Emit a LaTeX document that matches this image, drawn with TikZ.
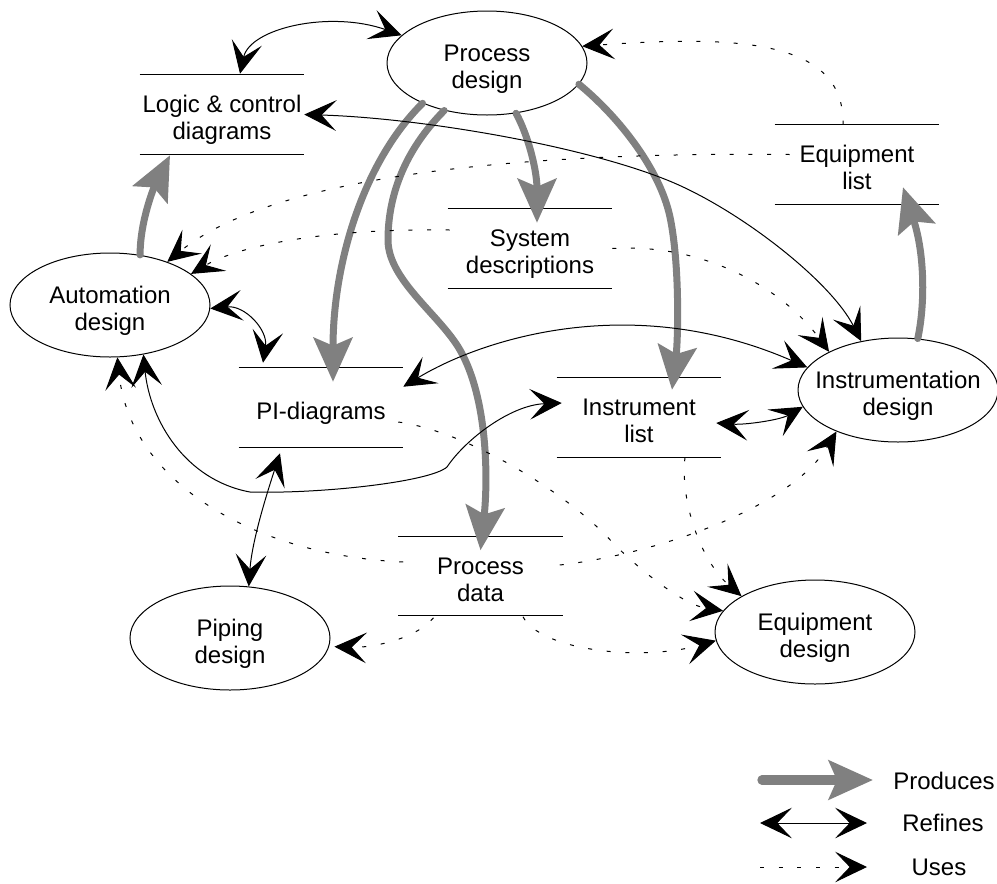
\documentclass[tikz,border=0pt]{standalone}
\usepackage{fontspec}
\setmainfont{Liberation Sans}
\usetikzlibrary{arrows.meta,shapes.geometric,calc}

% centred multi-line label that does not widen its node
\newcommand\ntext[1]{\smash{\raisebox{-9pt}{\makebox[0pt]{\begin{tabular}{@{}c@{}}#1\end{tabular}}}}}

\begin{document}
\begin{tikzpicture}[x=0.75pt,y=-0.75pt,
  every node/.style={font=\fontsize{18}{20.25}\selectfont},
  activity/.style={ellipse,draw,fill=white,line width=0.75pt,minimum width=150pt,minimum height=78pt,inner sep=0pt},
  storeline/.style={draw,line width=0.75pt},
  store/.style={rectangle,minimum width=123pt,minimum height=59.25pt,inner sep=0pt,
    append after command={(\tikzlastnode.north west) edge[storeline] (\tikzlastnode.north east)
                          (\tikzlastnode.south west) edge[storeline] (\tikzlastnode.south east)}},
  produces/.style={draw=gray,line width=5.25pt,line cap=round,-{Stealth[length=33pt,width=29pt,inset=6pt]}},
  refines/.style={draw,line width=0.75pt,{Stealth[length=24pt,width=23pt,inset=11pt]}-{Stealth[length=24pt,width=23pt,inset=11pt]}},
  uses/.style={draw,line width=0.75pt,dash pattern=on 3pt off 11pt,-{Stealth[length=24pt,width=23pt,inset=11pt]}},
]
\useasboundingbox (0,0) rectangle (997,883);
\fill[white] (0,0) rectangle (997,883);

% activities
\node[activity] (pd) at (487,63) {\ntext{Process\\design}};
\node[activity] (ad) at (110,305) {\ntext{Automation\\design}};
\node[activity] (id) at (898,390) {\ntext{Instrumentation\\design}};
\node[activity] (pp) at (230,638) {\ntext{Piping\\design}};
\node[activity] (ed) at (815,632) {\ntext{Equipment\\design}};

% documents
\node[store] (lc) at (222,114.5) {\ntext{Logic \& control\\diagrams}};
\node[store] (el) at (857,164.5) {\ntext{Equipment\\list}};
\node[store] (sd) at (530,248.5) {\ntext{System\\descriptions}};
\node[store] (pi) at (321,407.5) {\ntext{PI-diagrams}};
\node[store] (il) at (639,417.5) {\ntext{Instrument\\list}};
\node[store] (pdat) at (480.5,576) {\ntext{Process\\data}};

% produces
\draw[produces] (ad.59) .. controls (140,220) and (155,185) .. ($(lc.south)+(-52,1)$);
\draw[produces] (pd.212) .. controls (365,160) and (333,260) .. ($(pi.north)+(12,14)$);
\draw[produces] (pd.228) .. controls (405,150) and (388,195) .. (388,240)
   .. controls (388,280) and (440,315) .. (460,350)
   .. controls (488,399) and (488,480) .. ($(pdat.north)+(0,14)$);
\draw[produces] (pd.-60) .. controls (528,135) and (537,170) .. ($(sd.north)+(7,14)$);
\draw[produces] (pd.-13) .. controls (620,118) and (660,170) .. (670,217)
   .. controls (680,265) and (678,340) .. ($(il.north)+(33,12)$);
\draw[produces] (id.69) .. controls (925,305) and (925,255) .. ($(el.south)+(46,-17)$);

% refines
\draw[refines] ($(lc.north)+(18,-1)$) .. controls (250,28) and (330,10) .. (pd.162);
\draw[refines] (lc.east) .. controls (420,118) and (580,145) .. (667,180)
   .. controls (737,208) and (830,280) .. (id.127);
\draw[refines] (ad.-2) .. controls (245,305) and (268,330) .. ($(pi.north)+(-58,-5)$);
\draw[refines] (ad.-56) .. controls (150,420) and (185,480) .. (250,492)
   .. controls (320,494) and (430,482) .. (447,467)
   .. controls (465,440) and (510,405) .. ($(il.west)+(5,-14.5)$);
\draw[refines] ($(pi.south)+(-41,6)$) .. controls (268,490) and (252,540) .. (pp.70);
\draw[refines] ($(pi.north east)+(0,19)$) .. controls (480,340) and (630,290) .. (id.166);
\draw[refines] ($(il.east)+(-5,5.5)$) .. controls (745,425) and (780,420) .. (id.190);

% uses
\draw[uses] ($(el.north)+(-14,0)$) .. controls (845,40) and (740,35) .. (pd.10);
\draw[uses] ($(el.west)+(15,-10)$) .. controls (550,152) and (280,170) .. (ad.37);
\draw[uses] ($(sd.west)+(2,-18.5)$) .. controls (330,228) and (240,245) .. (ad.21);
\draw[uses] (sd.east) .. controls (700,243) and (780,285) .. (id.151);
\draw[uses] ($(pi.east)+(-5,14.5)$) .. controls (470,432) and (570,495) .. (613,543)
   .. controls (645,575) and (685,605) .. (ed.167);
\draw[uses] ($(il.south)+(46,0)$) .. controls (680,500) and (700,560) .. (ed.154);
\draw[uses] ($(pdat.south)+(42.5,1)$) .. controls (540,650) and (640,662) .. (ed.185);
\draw[uses] ($(pdat.south)+(-47,2)$) .. controls (415,640) and (370,648) .. ([xshift=4pt]pp.-5);
\draw[uses] ($(pdat.west)+(5,-14)$) .. controls (250,555) and (130,480) .. (ad.-82);
\draw[uses] ($(pdat.east)+(-3,-11)$) .. controls (650,555) and (790,510) .. (id.214);

% legend
\coordinate (pa) at (762,780); \coordinate (pb) at (873,780);
\draw[produces,line width=7pt] (pa) -- (pb);
\node (lp) at (944,781) {Produces};
\coordinate (ra) at (760,823); \coordinate (rb) at (867,823);
\draw[refines] (ra) -- (rb);
\node (lr) at (943,823) {Refines};
\coordinate (ua) at (760,867); \coordinate (ub) at (867,867);
\draw[uses] (ua) -- (ub);
\node (lu) at (939,867) {Uses};
\end{tikzpicture}
\end{document}
